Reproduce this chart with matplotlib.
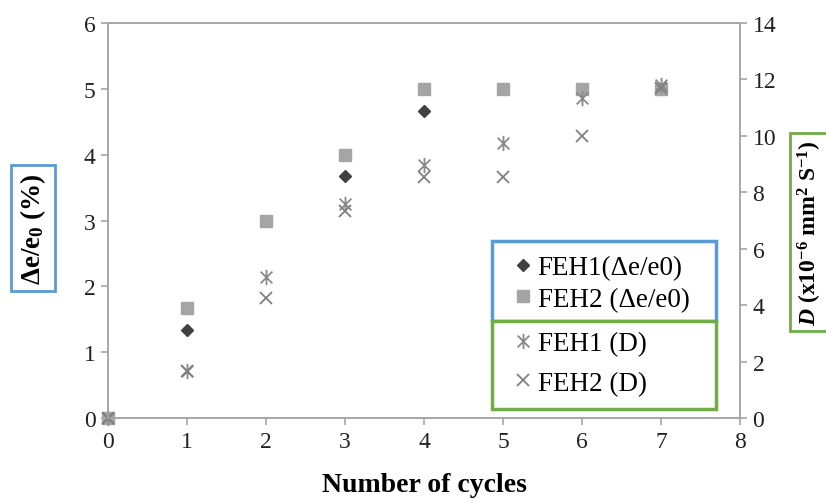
import numpy as np
import matplotlib
matplotlib.use("Agg")
import matplotlib.pyplot as plt
from matplotlib.path import Path
from matplotlib.patches import Rectangle

plt.rcParams['font.family'] = ['Liberation Serif', 'DejaVu Serif']
plt.rcParams['mathtext.fontset'] = 'custom'
plt.rcParams['mathtext.rm'] = 'Liberation Serif'
plt.rcParams['mathtext.it'] = 'Liberation Serif:italic'
plt.rcParams['mathtext.bf'] = 'Liberation Serif:bold'
plt.rcParams['mathtext.bfit'] = 'Liberation Serif:italic:bold'

cycles = [0, 1, 2, 3, 4, 5, 6, 7]
feh1_strain = [0, 1.33, 3.0, 3.67, 4.67, 5.0, 5.0, 5.0]
feh2_strain = [0, 1.67, 3.0, 4.0, 5.0, 5.0, 5.0, 5.0]
feh1_D = [0, 1.65, 5.0, 7.6, 8.95, 9.75, 11.35, 11.8]
feh2_D = [0, 1.65, 4.25, 7.35, 8.55, 8.55, 10.0, 11.7]

# excel style asterisk: x with a vertical bar
star = Path([(-1, -1), (1, 1), (-1, 1), (1, -1), (0, -1.3), (0, 1.3)],
            [Path.MOVETO, Path.LINETO, Path.MOVETO, Path.LINETO, Path.MOVETO, Path.LINETO])

blue = '#5b9bd5'
green = '#70ad47'
spine_col = '#a6a6a6'

fig = plt.figure(figsize=(8.26, 5.02), dpi=100)
ax = fig.add_axes([108/826, 1-419/502, (740-108)/826, (419-24)/502])
ax2 = ax.twinx()

h1, = ax.plot(cycles, feh1_strain, ls='none', marker='D', ms=6, color='#404040',
              label='FEH1(Δe/e0)', clip_on=False)
h2, = ax.plot(cycles, feh2_strain, ls='none', marker='s', ms=8, color='#a5a5a5',
              label='FEH2 (Δe/e0)', clip_on=False)
h3, = ax2.plot(cycles, feh1_D, ls='none', marker=star, ms=11, mew=1.3, color='#8a8a8a',
               label='FEH1 (D)', clip_on=False)
h4, = ax2.plot(cycles, feh2_D, ls='none', marker='x', ms=9, mew=1.3, color='#7f7f7f',
               label='FEH2 (D)', clip_on=False)

ax.set_xlim(0, 8)
ax.set_ylim(0, 6)
ax2.set_ylim(0, 14)
ax.set_xticks(range(0, 9))
ax.set_yticks(range(0, 7))
ax2.set_yticks(range(0, 15, 2))

for a in (ax, ax2):
    for s in a.spines.values():
        s.set_color(spine_col)
        s.set_linewidth(1.2)
    a.tick_params(direction='out', length=5, width=1.2, color=spine_col,
                  labelsize=17, labelcolor='#222222', pad=4)
    a.set_facecolor('none')

fig.text(424/826, 1-492/502, 'Number of cycles', fontsize=20, fontweight='bold',
         ha='center', va='baseline')

fig.text(33/826, 1-229/502, r'Δe/e$_\mathbf{0}$ (%)', rotation=90, fontsize=19.5,
         fontweight='bold', ha='center', va='center',
         bbox=dict(facecolor='white', edgecolor=blue, linewidth=2, boxstyle='square,pad=0.25'))
fig.text(810/826, 1-233/502, r'$\mathbfit{D}$ (x10$^{\mathbf{-6}}$ mm$^{\mathbf{2}}$ S$^{\mathbf{-1}}$)',
         rotation=90, fontsize=17, fontweight='bold', ha='center', va='center',
         bbox=dict(facecolor='white', edgecolor=green, linewidth=2, boxstyle='square,pad=0.25'))

# legend boxes
ax2.add_patch(Rectangle((492/826, 1-322/502), 224/826, 80/502, transform=fig.transFigure,
                        facecolor='white', edgecolor=blue, linewidth=2.5, clip_on=False, zorder=4))
ax2.add_patch(Rectangle((492/826, 1-410/502), 224/826, 88/502, transform=fig.transFigure,
                        facecolor='white', edgecolor=green, linewidth=2.5, clip_on=False, zorder=4))

leg1 = ax2.legend(handles=[h1, h2], loc='center left', bbox_to_anchor=(512/826, 1-284.5/502),
                  bbox_transform=fig.transFigure, frameon=False, fontsize=19.5, borderpad=0,
                  borderaxespad=0, handlelength=0.8, handletextpad=0.15, labelspacing=0.25)
leg1.set_zorder(6)
ax2.add_artist(leg1)
leg2 = ax2.legend(handles=[h3, h4], loc='center left', bbox_to_anchor=(512/826, 1-364.5/502),
                  bbox_transform=fig.transFigure, frameon=False, fontsize=19.5, borderpad=0,
                  borderaxespad=0, handlelength=0.8, handletextpad=0.15, labelspacing=0.55)
leg2.set_zorder(6)

fig.savefig('out.png', dpi=100)
